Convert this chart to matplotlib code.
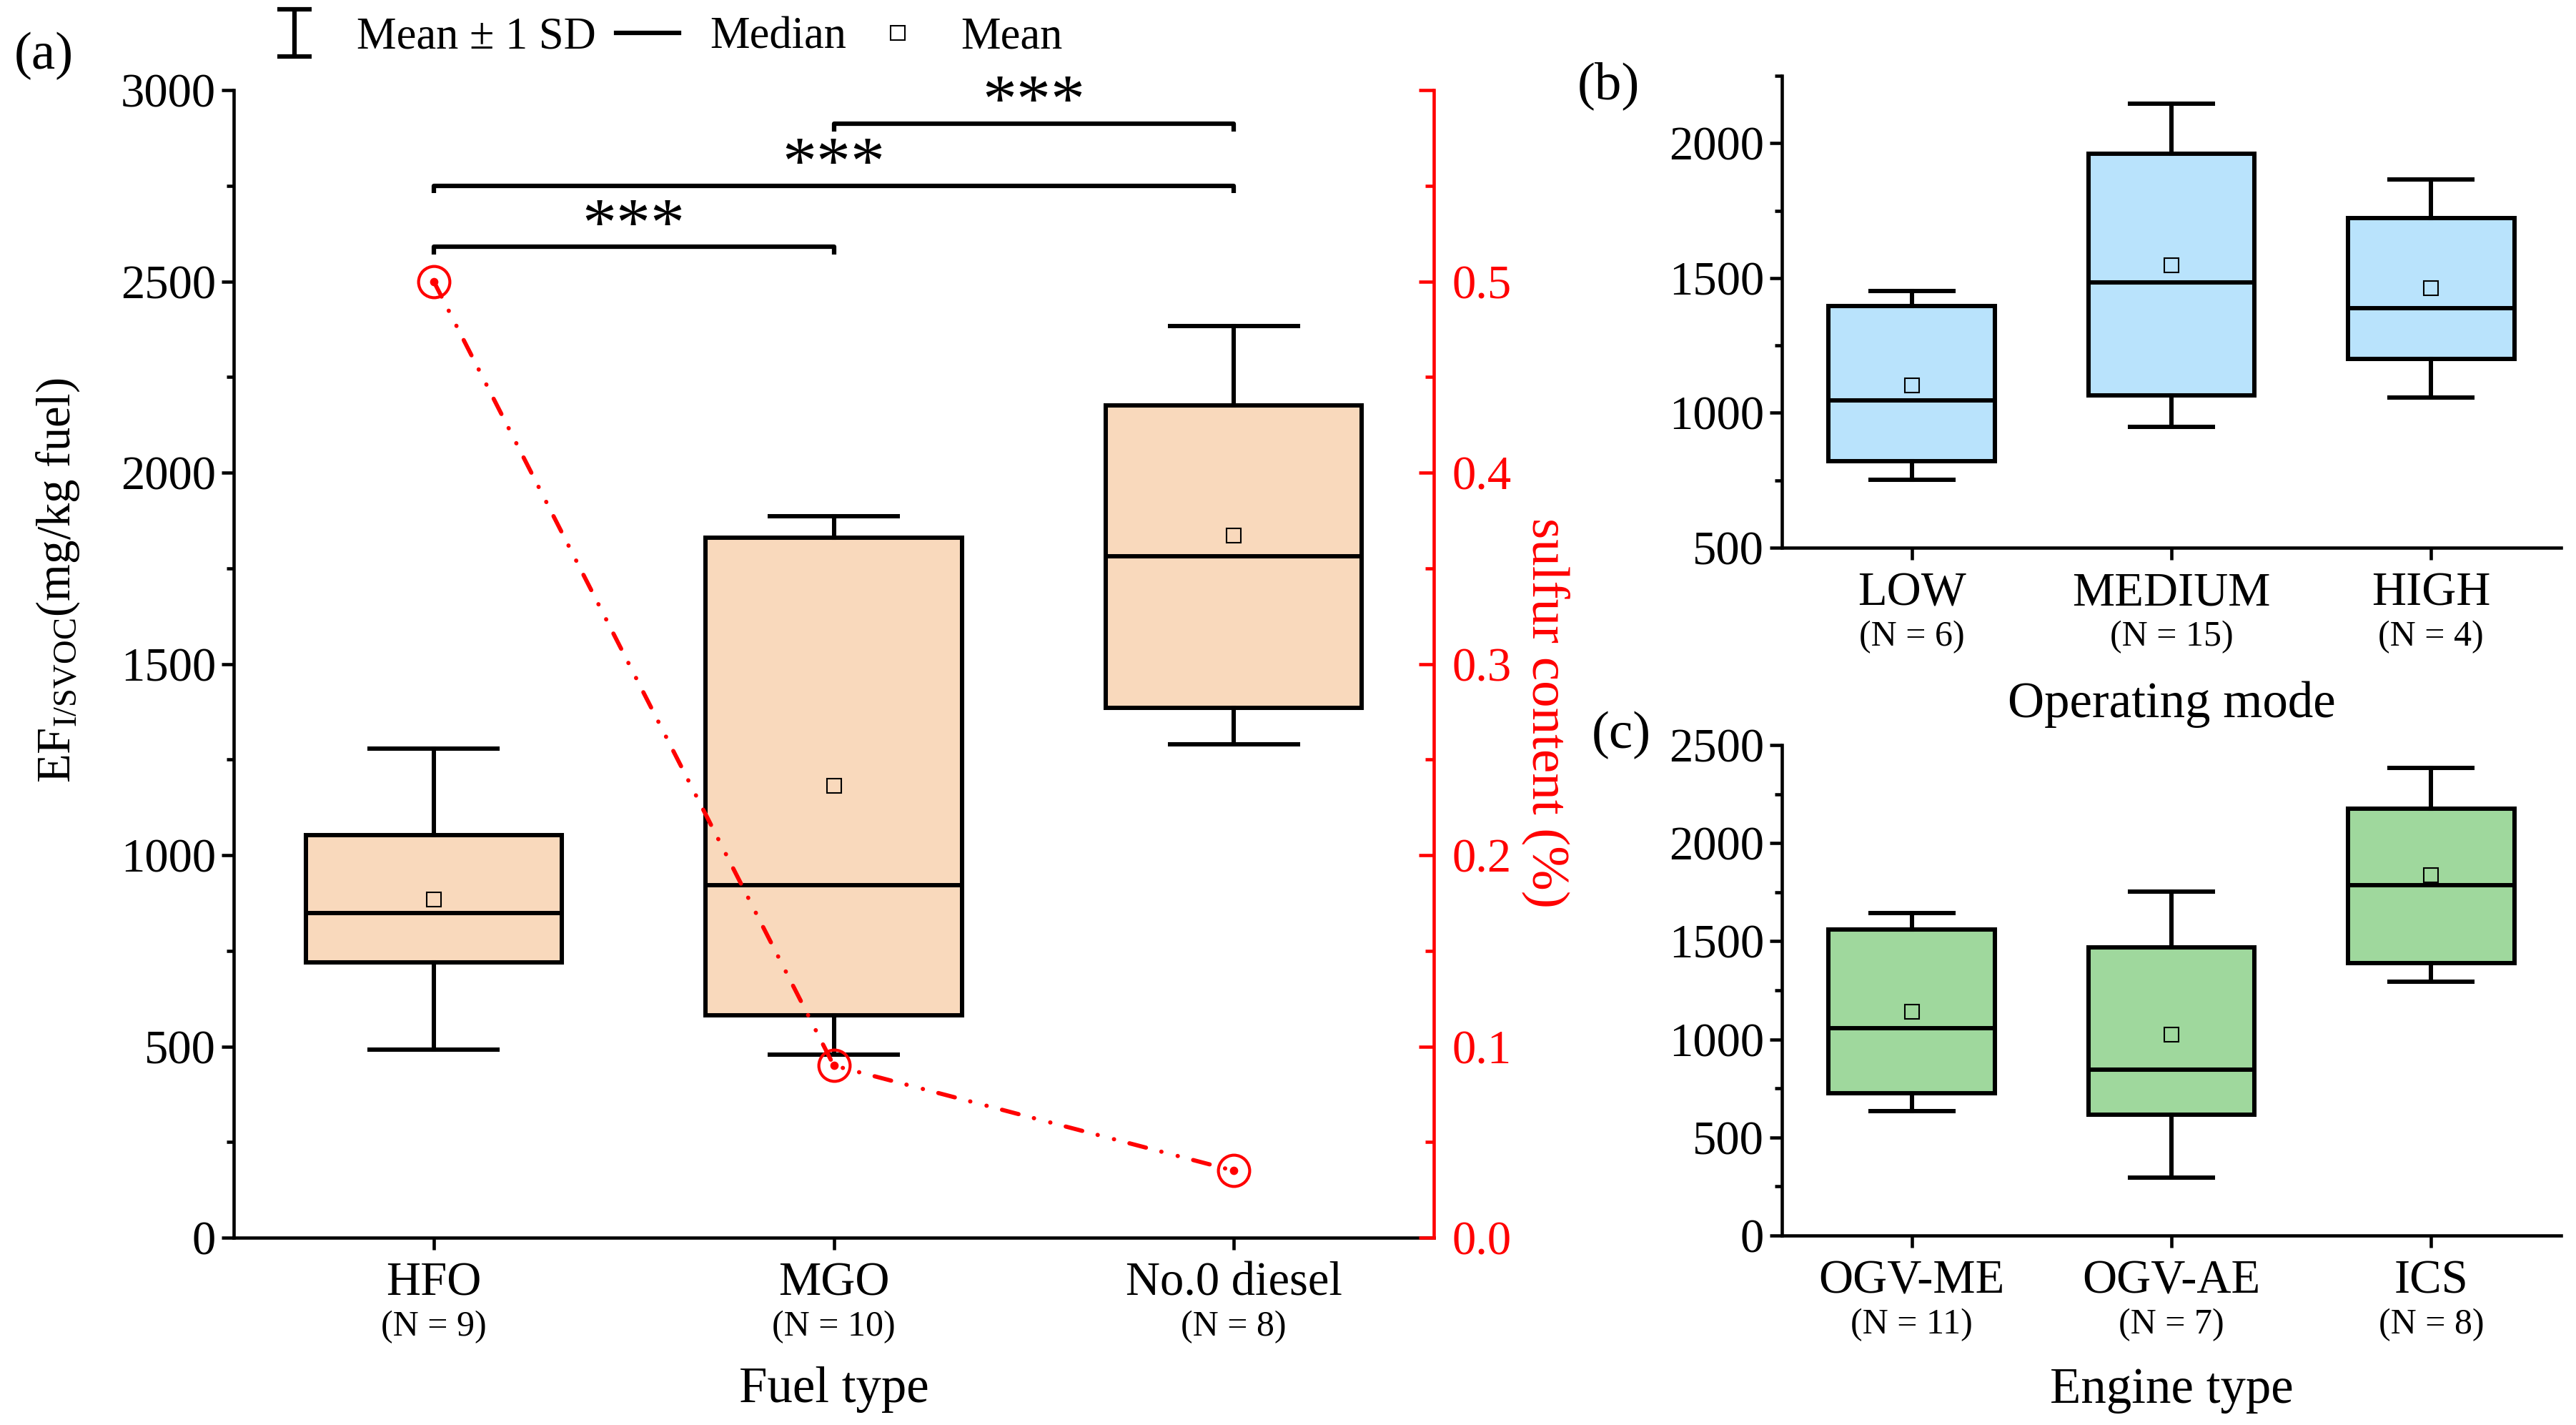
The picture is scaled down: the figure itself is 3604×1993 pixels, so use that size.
import matplotlib
matplotlib.use('Agg')
import matplotlib.pyplot as plt
import numpy as np
from matplotlib.lines import Line2D
from matplotlib.path import Path
from matplotlib.ticker import MultipleLocator

plt.rcParams['font.family'] = ['Liberation Serif', 'DejaVu Serif']
plt.rcParams['mathtext.fontset'] = 'custom'
plt.rcParams['mathtext.rm'] = 'Liberation Serif'
plt.rcParams['mathtext.it'] = 'Liberation Serif:italic'

# ---- data ----
fuel_types = ['HFO', 'MGO', 'No.0 diesel']
fuel_n = [9, 10, 8]
fuel_q1 = [720, 582, 1385]
fuel_med = [848, 922, 1781]
fuel_q3 = [1052, 1830, 2175]
fuel_mean = [885, 1182, 1836]
fuel_sd = [393, 704, 547]
sulfur = [0.5, 0.09, 0.035]

modes = ['LOW', 'MEDIUM', 'HIGH']
mode_n = [6, 15, 4]
mode_q1 = [822, 1065, 1200]
mode_med = [1047, 1485, 1388]
mode_q3 = [1395, 1962, 1722]
mode_mean = [1101, 1547, 1462]
mode_sd = [350, 599, 404]

engines = ['OGV-ME', 'OGV-AE', 'ICS']
engine_n = [11, 7, 8]
engine_q1 = [724, 616, 1387]
engine_med = [1057, 844, 1785]
engine_q3 = [1561, 1467, 2175]
engine_mean = [1139, 1024, 1838]
engine_sd = [505, 730, 546]

# significance pairs (a) and bracket heights
sig_pairs = [(0, 1), (0, 2), (1, 2)]
sig_levels = [2590, 2750, 2912]
sig_text = ['***', '***', '***']

W, H = 3604, 1993
fig = plt.figure(figsize=(W / 300, H / 300), dpi=300)


def px(l, b, r, t):
    return [l / W, 1 - b / H, (r - l) / W, (b - t) / H]


def make_stats(q1, med, q3, mean, sd):
    return [dict(q1=a, med=m, q3=c, mean=mu, whislo=mu - s, whishi=mu + s, fliers=[])
            for a, m, c, mu, s in zip(q1, med, q3, mean, sd)]


LW = 1.45
SP = 1.1


def draw_boxes(ax, stats, color):
    ax.bxp(stats, positions=range(len(stats)), widths=0.64, capwidths=0.32,
           patch_artist=True, showmeans=True, showfliers=False, manage_ticks=False,
           boxprops=dict(facecolor=color, edgecolor='k', linewidth=LW),
           whiskerprops=dict(color='k', linewidth=LW),
           capprops=dict(color='k', linewidth=LW),
           medianprops=dict(color='k', linewidth=LW),
           meanprops=dict(marker='s', markersize=4.8, markerfacecolor='none',
                          markeredgecolor='k', markeredgewidth=0.5))


def style_axis(ax, names, ns, xlabel, label_y):
    ax.set_xlim(-0.5, len(names) - 0.5)
    ax.set_xticks(range(len(names)))
    ax.set_xticklabels(names, fontsize=16)
    for i, n in enumerate(ns):
        ax.annotate('(N = %d)' % n, xy=(i, 0), xycoords=('data', 'axes fraction'),
                    xytext=(0, -30), textcoords='offset points',
                    ha='center', va='center', fontsize=12)
    ax.set_xlabel(xlabel, fontsize=17)
    ax.xaxis.set_label_coords(0.5, label_y)
    ax.spines['top'].set_visible(False)
    ax.spines['right'].set_visible(False)
    for s in ['left', 'bottom']:
        ax.spines[s].set_linewidth(SP)
    ax.tick_params(axis='both', which='major', direction='out', length=4, width=SP,
                   labelsize=16, pad=2)
    ax.tick_params(axis='x', which='major', pad=4)
    ax.tick_params(axis='y', which='minor', direction='out', length=2.5, width=SP)
    ax.tick_params(axis='x', which='minor', bottom=False)


# ---- panel (a) ----
ax = fig.add_axes(px(327, 1731, 2006, 126))
draw_boxes(ax, make_stats(fuel_q1, fuel_med, fuel_q3, fuel_mean, fuel_sd), '#F9D9BC')
ax.set_ylim(0, 3000)
ax.yaxis.set_major_locator(MultipleLocator(500))
ax.yaxis.set_minor_locator(MultipleLocator(250))
style_axis(ax, fuel_types, fuel_n, 'Fuel type', -0.112)

for (i, j), lev, t in zip(sig_pairs, sig_levels, sig_text):
    ax.plot([i, i, j, j], [lev - 20, lev, lev, lev - 20], color='k', lw=1.5,
            solid_capstyle='butt', clip_on=False)
    ax.text((i + j) / 2, lev + 5, t, ha='center', va='baseline', fontsize=23)

ax2 = ax.twinx()
ax2.set_ylim(0, 0.6)
ax2.set_yticks(np.arange(0, 0.61, 0.1))
ax2.set_yticklabels(['0.0', '0.1', '0.2', '0.3', '0.4', '0.5', ''])
ax2.yaxis.set_minor_locator(MultipleLocator(0.05))
for s in ['top', 'left', 'bottom']:
    ax2.spines[s].set_visible(False)
ax2.spines['right'].set_color('red')
ax2.spines['right'].set_linewidth(SP)
ax2.tick_params(axis='y', which='major', direction='in', length=5, width=SP,
                colors='red', labelsize=16, pad=6)
ax2.tick_params(axis='y', which='minor', direction='in', length=3, width=SP, colors='red')
ax2.plot(range(len(sulfur)), sulfur, color='red', lw=1.4,
         dashes=(4.1, 3.8, 0.05, 4.0, 0.05, 3.8), dash_capstyle='round',
         marker='o', markersize=10.5, markerfacecolor='none', markeredgecolor='red',
         markeredgewidth=1.0, clip_on=False)
ax2.plot(range(len(sulfur)), sulfur, ls='none', marker='o', markersize=1.8,
         color='red', clip_on=False)

fig.text(81 / W, 1 - 812 / H, r'EF$_{\mathrm{I/SVOC}}$(mg/kg fuel)', rotation=90,
         ha='center', va='center', fontsize=16)
fig.text(2163 / W, 1 - 997 / H, 'sulfur content (%)', rotation=270,
         ha='center', va='center', fontsize=18, color='red')

# ---- panel (b) ----
axb = fig.add_axes(px(2493, 766, 3583, 106))
draw_boxes(axb, make_stats(mode_q1, mode_med, mode_q3, mode_mean, mode_sd), '#B9E3FC')
axb.set_ylim(500, 2250)
axb.set_yticks([500, 1000, 1500, 2000])
axb.yaxis.set_minor_locator(MultipleLocator(250))
style_axis(axb, modes, mode_n, 'Operating mode', -0.282)

# ---- panel (c) ----
axc = fig.add_axes(px(2493, 1728, 3583, 1042))
draw_boxes(axc, make_stats(engine_q1, engine_med, engine_q3, engine_mean, engine_sd), '#9FD89D')
axc.set_ylim(0, 2500)
axc.yaxis.set_major_locator(MultipleLocator(500))
axc.yaxis.set_minor_locator(MultipleLocator(250))
style_axis(axc, engines, engine_n, 'Engine type', -0.268)

# panel letters
fig.text(61 / W, 1 - 78 / H, '(a)', ha='center', va='center', fontsize=18)
fig.text(2250 / W, 1 - 120 / H, '(b)', ha='center', va='center', fontsize=18)
fig.text(2268 / W, 1 - 1028 / H, '(c)', ha='center', va='center', fontsize=18)

# legend
ibar = Path([(0, -1), (0, 1), (-0.73, 1), (0.73, 1), (-0.73, -1), (0.73, -1)],
            [Path.MOVETO, Path.LINETO, Path.MOVETO, Path.LINETO, Path.MOVETO, Path.LINETO])
handles = [
    Line2D([], [], ls='none', marker=ibar, markersize=16, markeredgewidth=1.5, color='k'),
    Line2D([], [], color='k', lw=1.5),
    Line2D([], [], ls='none', marker='s', markersize=4.8, markerfacecolor='none',
           markeredgecolor='k', markeredgewidth=0.5),
]
fig.legend(handles, ['Mean \u00b1 1 SD', 'Median', 'Mean'], ncol=3, loc='center left',
           bbox_to_anchor=(368 / W, 1 - 53 / H), frameon=False, handlelength=1.4,
           handletextpad=0.7, columnspacing=0.45, borderpad=0, borderaxespad=0,
           fontsize=15)

fig.savefig('out.png', dpi=300)
